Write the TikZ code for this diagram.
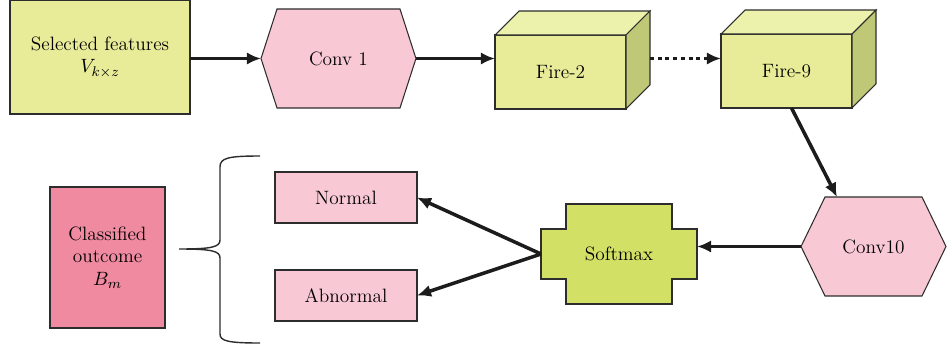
\documentclass[tikz,border=0pt]{standalone}
\usepackage{amsmath}
\usetikzlibrary{arrows.meta, backgrounds}
\definecolor{FeatGreen}{RGB}{232,236,152}
\definecolor{TopGreen}{RGB}{236,241,172}
\definecolor{SideGreen}{RGB}{190,200,118}
\definecolor{SoftGreen}{RGB}{211,224,102}
\definecolor{ConvPink}{RGB}{248,200,213}
\definecolor{OutPink}{RGB}{240,138,160}
\definecolor{EdgeGray}{RGB}{45,45,45}
\definecolor{ArrowBlack}{RGB}{28,28,28}
\tikzset{next/.style={-{Latex[length=8pt,width=7pt]}, line width=2pt, draw=ArrowBlack}}
\tikzset{block/.style={rectangle, draw=EdgeGray, line width=.6pt, outer sep=0pt, inner sep=1pt, align=center}}
\tikzset{sparsam/.style={rectangle, outer sep=0pt, inner sep=1pt, align=center}}
\tikzset{outline/.style={draw=EdgeGray, line width=.6pt}}
\newcommand{\depth}{.48cm}
\newcommand{\notch}{.5cm}
\newcommand{\hexa}[3]{\draw[outline, fill=#2] (#1.west) -- ([xshift=#3]#1.north west) -- ([xshift=-#3]#1.north east) -- (#1.east) -- ([xshift=-#3]#1.south east) -- ([xshift=#3]#1.south west) -- cycle;}
\newcommand{\cube}[1]{\draw[outline, fill=TopGreen] (#1.north west) -- ([shift={(\depth,\depth)}]#1.north west) -- ([shift={(\depth,\depth)}]#1.north east) -- (#1.north east) -- cycle;
  \draw[outline, fill=SideGreen] (#1.north east) -- ([shift={(\depth,\depth)}]#1.north east) -- ([shift={(\depth,\depth)}]#1.south east) -- (#1.south east) -- cycle;}

\begin{document}
\begin{tikzpicture}[x=.02cm, y=-.02cm, font=\fontsize{11}{13}\selectfont]
  \useasboundingbox (0,0) rectangle (947,349);

  % --- top row ---
  \node[block, fill=FeatGreen, minimum width=3.6cm, minimum height=2.28cm] (sel) at (100,57) {Selected features\\$V_{k\times z}$};
  \node[sparsam, minimum width=3.1cm, minimum height=1.98cm] (conv1) at (338.5,58.5) {Conv 1};
  \node[block, fill=FeatGreen, minimum width=2.62cm, minimum height=1.48cm] (fire2) at (560.5,72) {Fire-2};
  \node[block, fill=FeatGreen, minimum width=2.62cm, minimum height=1.48cm] (fire9) at (786.5,71) {Fire-9};
  \cube{fire2}
  \cube{fire9}

  % --- bottom row ---
  \node[sparsam, minimum width=2.9cm, minimum height=1.98cm] (conv10) at (873.5,246.5) {Conv10};
  \node[sparsam, minimum width=3.12cm, minimum height=2cm] (soft) at (619,254) {Softmax};
  \node[block, fill=ConvPink, minimum width=2.84cm, minimum height=1.02cm] (normal) at (346,197.5) {Normal};
  \node[block, fill=ConvPink, minimum width=2.84cm, minimum height=1.02cm] (abnormal) at (346,295.5) {Abnormal};
  \node[block, fill=OutPink, minimum width=2.3cm, minimum height=2.82cm] (outcome) at (107.5,257.5) {Classified\\outcome\\$B_m$};

  \begin{scope}[on background layer]
    \hexa{conv1}{ConvPink}{.32cm}
    \hexa{conv10}{ConvPink}{.48cm}
    \draw[outline, fill=SoftGreen] ([xshift=\notch]soft.north west) -- ([xshift=-\notch]soft.north east)
      -- ([shift={(-\notch,-\notch)}]soft.north east) -- ([yshift=-\notch]soft.north east)
      -- ([yshift=\notch]soft.south east) -- ([shift={(-\notch,\notch)}]soft.south east)
      -- ([xshift=-\notch]soft.south east) -- ([xshift=\notch]soft.south west)
      -- ([shift={(\notch,\notch)}]soft.south west) -- ([yshift=\notch]soft.south west)
      -- ([yshift=-\notch]soft.north west) -- ([shift={(\notch,-\notch)}]soft.north west) -- cycle;
  \end{scope}

  % --- connectors ---
  \draw[next] (sel.east |- conv1.west) -- (conv1.west);
  \draw[next] (conv1.east) -- (conv1.east -| fire2.west);
  \draw[next, dash pattern=on 2.2pt off 2.2pt] ([xshift=\depth]fire2.east |- conv1.east) -- (fire9.west |- conv1.east);
  \draw[next] ([xshift=.1cm]fire9.south) -- ([xshift=-.73cm]conv10.north);
  \draw[next] (conv10.west) -- (conv10.west -| soft.east);
  \draw[next] (soft.west) -- (normal.east);
  \draw[next] (soft.west) -- (abnormal.east);

  % --- brace ---
  \draw[draw=EdgeGray, line width=.8pt] (260,156) .. controls (228,156) and (220,158) .. (220,167) -- (220,240)
    .. controls (220,247) and (212,249) .. (179,249)
    .. controls (212,249) and (220,251) .. (220,258) -- (220,334)
    .. controls (220,341) and (228,343) .. (260,343);
\end{tikzpicture}
\end{document}
